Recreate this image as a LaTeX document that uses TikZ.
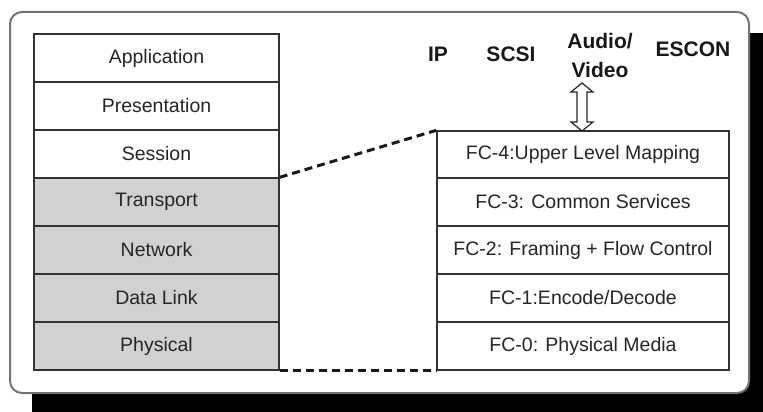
\documentclass[tikz,border=0pt]{standalone}
\usepackage{fontspec}
\setmainfont{Liberation Sans}
\begin{document}
\begin{tikzpicture}[x=1pt,y=-1pt,
  row/.style={draw=black!80, line width=1.4pt, minimum height=48pt, inner sep=0pt, font=\fontsize{19.5}{22}\selectfont, text=black!85},
  osirow/.style={row, minimum width=245pt},
  fcrow/.style={row, minimum width=292pt},
  shaded/.style={fill=black!18},
  proto/.style={font=\fontsize{21}{23}\bfseries\selectfont, text=black!90, inner sep=0pt},
  conn/.style={line width=3pt, dash pattern=on 8pt off 5pt, black!90}]
\useasboundingbox (0,0) rectangle (763,412);
% shadow
\fill[black] (32,33) rectangle (763,412);
% frame
\draw[fill=white, draw=black!55, line width=2pt, rounded corners=12pt] (10,12) rectangle (749,393);
% OSI stack
\node[osirow] (app) at (156.5,58) {Application};
\node[osirow] (pre) at (156.5,106) {Presentation};
\node[osirow] (ses) at (156.5,154) {Session};
\node[osirow,shaded] (tra) at (156.5,202) {Transport};
\node[osirow,shaded] (net) at (156.5,250) {Network};
\node[osirow,shaded] (dat) at (156.5,298) {Data Link};
\node[osirow,shaded] (phy) at (156.5,346) {Physical};
% FC stack
\node[fcrow, minimum height=47pt] (fc4) at (583,154.5) {FC-4:Upper Level Mapping};
\node[fcrow] (fc3) at (583,202) {FC-3: Common Services};
\node[fcrow] (fc2) at (583,250) {FC-2: Framing + Flow Control};
\node[fcrow] (fc1) at (583,298) {FC-1:Encode/Decode};
\node[fcrow] (fc0) at (583,346) {FC-0: Physical Media};
% protocol labels
\node[proto] (ip) at (438,54) {IP};
\node[proto] (scsi) at (511,54) {SCSI};
\node[proto] (audio) at (600,41) {Audio/};
\node[proto] (video) at (600,70) {Video};
\node[proto] (escon) at (693,49) {ESCON};
% double arrow
\draw[line width=1.2pt, black!85, fill=white]
  (582,83) -- (593,92) -- (587,92) -- (587,122) -- (593,122) -- (582,131)
  -- (571,122) -- (577,122) -- (577,92) -- (571,92) -- cycle;
% connectors
\draw[conn] (tra.north east) -- (fc4.north west);
\draw[conn] (phy.south east) -- (fc0.south west);
\end{tikzpicture}
\end{document}
